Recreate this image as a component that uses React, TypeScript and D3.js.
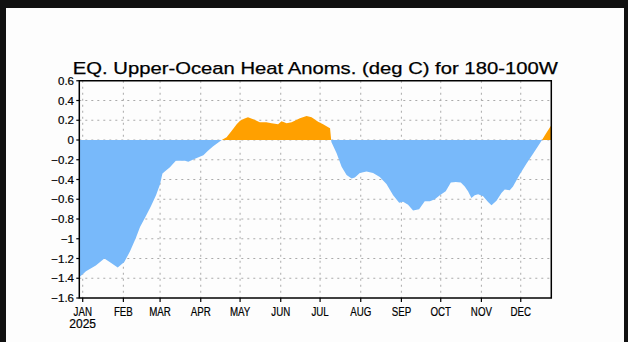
import React from "react";
import * as d3 from "d3";

const monthLabels = ["JAN", "FEB", "MAR", "APR", "MAY", "JUN", "JUL", "AUG", "SEP", "OCT", "NOV", "DEC"];
const monthStartDays = [0, 31, 59, 90, 120, 151, 181, 212, 243, 273, 304, 334];
const yTicks = [0.6, 0.4, 0.2, 0, -0.2, -0.4, -0.6, -0.8, -1, -1.2, -1.4, -1.6];

// day offset from 1 Jan 2025
const days = [
  -2.6, 2.5, 10, 16.5, 20, 26.7, 31.7, 36, 40.6, 43.7, 48.2, 52, 55.9, 58.9, 60.8, 63.5, 66.5, 71, 78, 80.5,
  85.6, 92, 95.5, 99.5, 106, 109.7, 113.5, 117.4, 120, 123, 126, 131, 135, 140, 144, 149, 151.6, 155.5, 159.3,
  165.6, 170.7, 174.5, 179.5, 183.3, 187.2, 188.6, 189.6, 193.6, 197.4, 201.2, 205, 207.5, 211.3, 216.4, 221.4,
  226.5, 231.6, 236.7, 241.3, 244.3, 248.1, 251.9, 256.5, 260.8, 264.7, 268.5, 272.3, 276.8, 280.7, 284.5, 288.3,
  291.3, 293.8, 296.4, 298.9, 301.5, 305.3, 309.1, 311.7, 315.5, 319.3, 321.8, 325.6, 328.1, 333.2, 338.3, 343.4,
  348.5, 350.2, 353, 357.3,
];
const anomalies = [
  -1.39, -1.33, -1.27, -1.2, -1.23, -1.29, -1.235, -1.13, -0.99, -0.88, -0.77, -0.67, -0.56, -0.45, -0.34, -0.31,
  -0.277, -0.21, -0.21, -0.22, -0.19, -0.155, -0.11, -0.064, 0, 0.027, 0.09, 0.16, 0.196, 0.215, 0.23, 0.206, 0.18,
  0.18, 0.17, 0.16, 0.19, 0.17, 0.18, 0.22, 0.243, 0.23, 0.186, 0.159, 0.128, 0.12, -0.02, -0.135, -0.27, -0.354,
  -0.39, -0.38, -0.334, -0.32, -0.335, -0.375, -0.445, -0.56, -0.635, -0.625, -0.655, -0.715, -0.7, -0.62, -0.62,
  -0.6, -0.56, -0.52, -0.43, -0.425, -0.43, -0.47, -0.52, -0.587, -0.56, -0.55, -0.57, -0.628, -0.66, -0.615,
  -0.537, -0.5, -0.51, -0.47, -0.35, -0.24, -0.14, -0.035, 0, 0.06, 0.15,
];

const W = 628;
const H = 342;

export default function App() {
  const x = d3.scaleLinear().domain([-2.6, 357.3]).range([79.3, 551.3]);
  const y = d3.scaleLinear().domain([-1.6, 0.6]).range([298, 80.75]);
  const data = days.map((d, i) => ({ d, v: anomalies[i] }));
  const area = d3
    .area<{ d: number; v: number }>()
    .x((p) => x(p.d))
    .y0(y(0))
    .y1((p) => y(p.v));
  const path = area(data) || "";
  const [x0, x1] = x.range();
  const [yb, yt] = y.range();
  const fmt = (v: number) => (v === 0 ? "0" : (v < 0 ? "\u2212" : "") + String(Math.abs(Math.round(v * 10) / 10)));
  const font = "'Liberation Sans', Arial, sans-serif";

  return (
    <svg width={W} height={H} style={{ position: "absolute", left: 0, top: 0 }}>
      <rect x={0} y={0} width={W} height={H} fill="#111" />
      <rect x={6} y={8} width={618} height={H - 8} fill="#fdfdfd" />
      <defs>
        <clipPath id="above">
          <rect x={x0} y={yt} width={x1 - x0} height={y(0) - yt} />
        </clipPath>
        <clipPath id="below">
          <rect x={x0} y={y(0)} width={x1 - x0} height={yb - y(0)} />
        </clipPath>
      </defs>
      <text
        x={(x0 + x1) / 2}
        y={74}
        textAnchor="middle"
        fontFamily={font}
        fontSize={17}
        fill="#000"
        stroke="#000"
        strokeWidth={0.25}
        textLength={485}
        lengthAdjust="spacingAndGlyphs"
      >
        EQ. Upper-Ocean Heat Anoms. (deg C) for 180-100W
      </text>
      {/* grid */}
      {yTicks.slice(1, -1).map((t) => (
        <line
          key={"h" + t}
          x1={x0}
          x2={x1}
          y1={y(t)}
          y2={y(t)}
          stroke="#aaa"
          strokeWidth={1}
          strokeDasharray="2,4"
        />
      ))}
      {monthStartDays.map((d) => (
        <line
          key={"v" + d}
          x1={x(d)}
          x2={x(d)}
          y1={yt}
          y2={yb}
          stroke="#aaa"
          strokeWidth={1}
          strokeDasharray="2,4"
        />
      ))}
      <path d={path} fill="#ffa000" clipPath="url(#above)" />
      <path d={path} fill="#78b9fa" clipPath="url(#below)" />
      {/* frame */}
      <rect x={x0} y={yt} width={x1 - x0} height={yb - yt} fill="none" stroke="#000" strokeWidth={1.5} />
      {yTicks.map((t) => (
        <g key={"yt" + t}>
          <line x1={x0 - 3} x2={x0} y1={y(t)} y2={y(t)} stroke="#000" strokeWidth={1.2} />
          <text x={74} y={y(t) + 4} textAnchor="end" fontFamily={font} fontSize={11.5} fill="#000" stroke="#000" strokeWidth={0.2}>
            {fmt(t)}
          </text>
        </g>
      ))}
      {monthStartDays.map((d, i) => (
        <g key={"xt" + d}>
          <line x1={x(d)} x2={x(d)} y1={yb} y2={yb + 4} stroke="#000" strokeWidth={1.2} />
          <g transform={`translate(${x(d)},315.5) scale(0.78,1)`}>
            <text x={0} y={0} textAnchor="middle" fontFamily={font} fontSize={12.5} fill="#000" stroke="#000" strokeWidth={0.2}>
              {monthLabels[i]}
            </text>
          </g>
        </g>
      ))}
      <text x={x(0)} y={328} textAnchor="middle" fontFamily={font} fontSize={12} fill="#000" stroke="#000" strokeWidth={0.2}>
        2025
      </text>
    </svg>
  );
}
